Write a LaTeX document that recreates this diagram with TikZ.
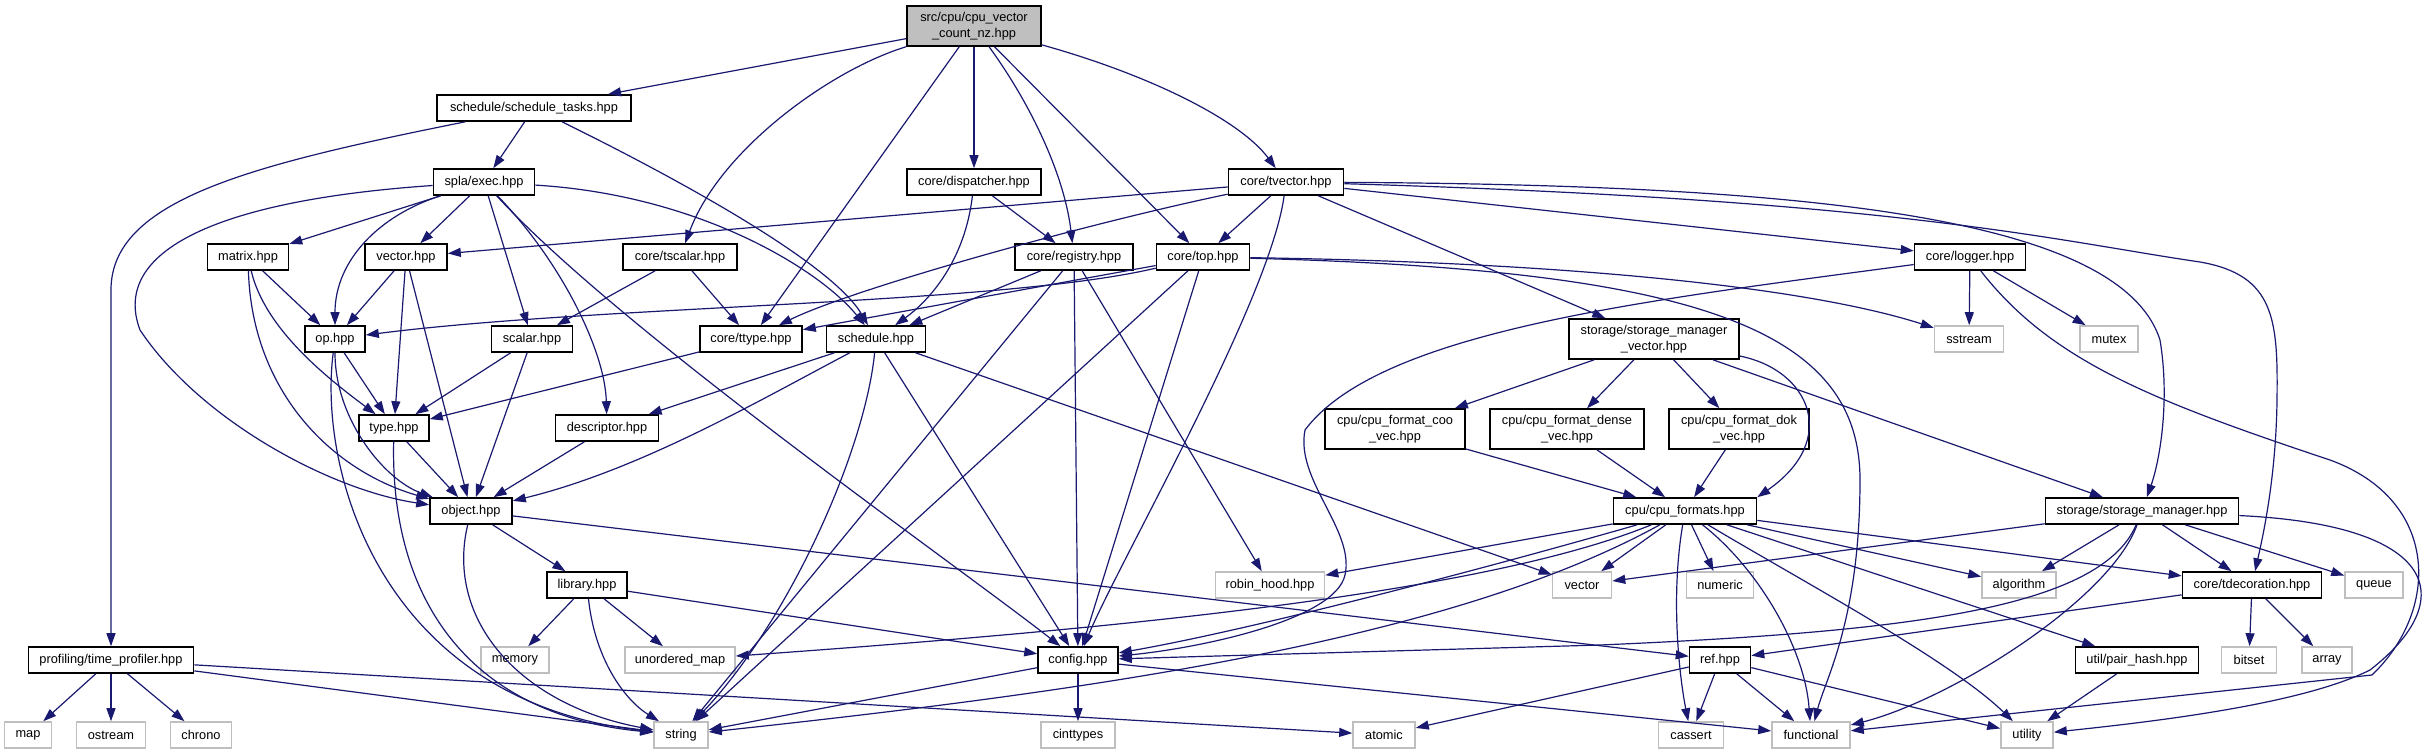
\documentclass[tikz,border=0pt]{standalone}
\usepackage{fontspec}
\setmainfont{Liberation Sans}
\usetikzlibrary{arrows.meta}
\definecolor{edgecol}{HTML}{191970}
\definecolor{sysgray}{HTML}{BFBFBF}
\begin{document}
\begin{tikzpicture}[x=1pt,y=-1pt,
  base/.style={rectangle, inner sep=0pt, minimum height=26pt, line width=1.6pt, fill=white,
    font=\fontsize{12.8}{15.5}\selectfont, align=center},
  doc/.style={base, draw=black},
  sys/.style={base, draw=sysgray},
  two/.style={minimum height=40pt},
  e/.style={draw=edgecol, line width=1.2pt, -{Triangle[length=13pt,width=9pt]}}
]
\fill[white] (0,0) rectangle (2429,753);
\useasboundingbox (0,0) rectangle (2429,753);

% nodes
\node[doc, two, fill=sysgray, minimum width=134pt] (src) at (974,26) {src/cpu/cpu\_vector\\\_count\_nz.hpp};
\node[doc, minimum width=194pt] (st) at (534,108) {schedule/schedule\_tasks.hpp};
\node[doc, minimum width=101pt] (exec) at (484,182) {spla/exec.hpp};
\node[doc, minimum width=134pt] (disp) at (974,182) {core/dispatcher.hpp};
\node[doc, minimum width=115pt] (tvec) at (1286,182) {core/tvector.hpp};
\node[doc, minimum width=81pt] (matrix) at (248,257) {matrix.hpp};
\node[doc, minimum width=82pt] (vech) at (406,257) {vector.hpp};
\node[doc, minimum width=114pt] (tscalar) at (680,257) {core/tscalar.hpp};
\node[doc, minimum width=118pt] (registry) at (1074,257) {core/registry.hpp};
\node[doc, minimum width=93pt] (top) at (1203,257) {core/top.hpp};
\node[doc, minimum width=111pt] (logger) at (1970,257) {core/logger.hpp};
\node[doc, minimum width=60pt] (op) at (335,339) {op.hpp};
\node[doc, minimum width=81pt] (scalar) at (532,339) {scalar.hpp};
\node[doc, minimum width=102pt] (ttype) at (751,339) {core/ttype.hpp};
\node[doc, minimum width=99pt] (sched) at (876,339) {schedule.hpp};
\node[doc, two, minimum width=170pt] (smv) at (1654,339) {storage/storage\_manager\\\_vector.hpp};
\node[sys, minimum width=69pt] (sstream) at (1969,339) {sstream};
\node[sys, minimum width=58pt] (mutex) at (2109,339) {mutex};
\node[doc, minimum width=70pt] (type) at (394,428) {type.hpp};
\node[doc, minimum width=103pt] (descr) at (607,428) {descriptor.hpp};
\node[doc, two, minimum width=140pt] (coo) at (1395,429) {cpu/cpu\_format\_coo\\\_vec.hpp};
\node[doc, two, minimum width=154pt] (dense) at (1567,429) {cpu/cpu\_format\_dense\\\_vec.hpp};
\node[doc, two, minimum width=140pt] (dok) at (1739,429) {cpu/cpu\_format\_dok\\\_vec.hpp};
\node[doc, minimum width=82pt] (object) at (471,511) {object.hpp};
\node[doc, minimum width=143pt] (formats) at (1685,511) {cpu/cpu\_formats.hpp};
\node[doc, minimum width=193pt] (sm) at (2142,511) {storage/storage\_manager.hpp};
\node[doc, minimum width=80pt] (library) at (587,585) {library.hpp};
\node[sys, minimum width=109pt] (robin) at (1270,585) {robin\_hood.hpp};
\node[sys, minimum width=59pt] (vecs) at (1582,585) {vector};
\node[sys, minimum width=67pt] (numeric) at (1720,585) {numeric};
\node[sys, minimum width=74pt] (algorithm) at (2019,585) {algorithm};
\node[doc, minimum width=139pt] (tdec) at (2252,585) {core/tdecoration.hpp};
\node[sys, minimum width=58pt] (queue) at (2374,585) {queue};
\node[doc, minimum width=165pt] (tprof) at (111,660) {profiling/time\_profiler.hpp};
\node[sys, minimum width=68pt] (memory) at (515,660) {memory};
\node[sys, minimum width=110pt] (umap) at (680,660) {unordered\_map};
\node[doc, minimum width=80pt] (config) at (1078,660) {config.hpp};
\node[doc, minimum width=61pt] (ref) at (1720,660) {ref.hpp};
\node[doc, minimum width=123pt] (pairhash) at (2137,660) {util/pair\_hash.hpp};
\node[sys, minimum width=55pt] (bitset) at (2249,660) {bitset};
\node[sys, minimum width=50pt] (array) at (2327,660) {array};
\node[sys, minimum width=47pt] (map) at (28,735) {map};
\node[sys, minimum width=69pt] (ostream) at (111,735) {ostream};
\node[sys, minimum width=61pt] (chrono) at (201,735) {chrono};
\node[sys, minimum width=54pt] (string) at (681,735) {string};
\node[sys, minimum width=74pt] (cinttypes) at (1078,735) {cinttypes};
\node[sys, minimum width=62pt] (atomic) at (1384,735) {atomic};
\node[sys, minimum width=65pt] (cassert) at (1691,735) {cassert};
\node[sys, minimum width=78pt] (functional) at (1811,735) {functional};
\node[sys, minimum width=52pt] (utility) at (2027,735) {utility};

% src
\draw[e] (src) -- (st);
\draw[e] (src) .. controls (830,70) and (720,150) .. (tscalar);
\draw[e] (src) -- (ttype);
\draw[e] (src) -- (disp);
\draw[e] (src) .. controls (1035,110) and (1065,180) .. (registry);
\draw[e] (src) -- (top);
\draw[e] (src) .. controls (1150,75) and (1240,120) .. (tvec);
% schedule_tasks
\draw[e] (st) -- (exec);
\draw[e] (st) .. controls (250,165) and (111,200) .. (111,290) -- (tprof);
\draw[e] (st) .. controls (660,170) and (830,260) .. (sched);
% exec
\draw[e] (exec) -- (matrix);
\draw[e] (exec) -- (vech);
\draw[e] (exec) .. controls (380,215) and (335,260) .. (op);
\draw[e] (exec) -- (scalar);
\draw[e] (exec) .. controls (560,260) and (605,350) .. (descr);
\draw[e] (exec) .. controls (220,200) and (110,250) .. (140,330) .. controls (200,420) and (330,490) .. (object);
\draw[e] (exec) .. controls (620,330) and (950,560) .. (config);
\draw[e] (exec) .. controls (700,195) and (820,270) .. (sched);
% matrix, vector
\draw[e] (matrix) -- (op);
\draw[e] (matrix) .. controls (265,330) and (330,380) .. (type);
\draw[e] (matrix) .. controls (252,390) and (330,470) .. (object);
\draw[e] (vech) -- (op);
\draw[e] (vech) -- (type);
\draw[e] (vech) -- (object);
% tscalar
\draw[e] (tscalar) -- (scalar);
\draw[e] (tscalar) -- (ttype);
% op, scalar, ttype, type, descriptor
\draw[e] (op) -- (type);
\draw[e] (op) .. controls (335,420) and (385,480) .. (object);
\draw[e] (op) .. controls (318,470) and (380,700) .. (string);
\draw[e] (scalar) -- (type);
\draw[e] (scalar) -- (object);
\draw[e] (ttype) -- (type);
\draw[e] (type) -- (object);
\draw[e] (type) .. controls (390,600) and (470,715) .. (string);
\draw[e] (descr) -- (object);
% object, library
\draw[e] (object) -- (library);
\draw[e] (object) .. controls (445,620) and (520,705) .. (string);
\draw[e] (object) -- (ref);
\draw[e] (library) -- (memory);
\draw[e] (library) -- (umap);
\draw[e] (library) .. controls (595,660) and (625,700) .. (string);
\draw[e] (library) -- (config);
% time profiler
\draw[e] (tprof) -- (map);
\draw[e] (tprof) -- (ostream);
\draw[e] (tprof) -- (chrono);
\draw[e] (tprof) -- (string);
\draw[e] (tprof) -- (atomic);
% schedule
\draw[e] (sched) -- (descr);
\draw[e] (sched) .. controls (760,400) and (640,470) .. (object);
\draw[e] (sched) .. controls (865,450) and (790,620) .. (string);
\draw[e] (sched) -- (config);
\draw[e] (sched) -- (vecs);
% dispatcher, registry
\draw[e] (disp) -- (registry);
\draw[e] (disp) .. controls (965,260) and (930,300) .. (sched);
\draw[e] (registry) -- (sched);
\draw[e] (registry) -- (string);
\draw[e] (registry) -- (config);
\draw[e] (registry) -- (robin);
% top
\draw[e] (top) .. controls (1000,305) and (600,305) .. (op);
\draw[e] (top) -- (ttype);
\draw[e] (top) -- (string);
\draw[e] (top) -- (config);
\draw[e] (top) .. controls (1550,262) and (1800,285) .. (sstream);
\draw[e] (top) .. controls (1700,270) and (1860,330) .. (1860,480) .. controls (1860,620) and (1825,680) .. (functional);
% tvector
\draw[e] (tvec) -- (vech);
\draw[e] (tvec) .. controls (1080,225) and (850,290) .. (ttype);
\draw[e] (tvec) -- (top);
\draw[e] (tvec) .. controls (1270,300) and (1120,560) .. (config);
\draw[e] (tvec) -- (logger);
\draw[e] (tvec) -- (smv);
\draw[e] (tvec) .. controls (1800,185) and (2120,215) .. (2160,340) .. controls (2170,400) and (2160,460) .. (sm);
\draw[e] (tvec) .. controls (1900,200) and (2050,240) .. (2200,262) .. controls (2275,275) and (2278,320) .. (2277,400) .. controls (2276,480) and (2262,540) .. (tdec);
% logger
\draw[e] (logger) -- (sstream);
\draw[e] (logger) -- (mutex);
\draw[e] (logger) .. controls (1650,300) and (1380,330) .. (1305,430) .. controls (1295,480) and (1355,530) .. (1345,575) .. controls (1335,620) and (1200,648) .. (config);
\draw[e] (logger) .. controls (2050,360) and (2150,400) .. (2330,460) .. controls (2440,500) and (2440,610) .. (2372,675) -- (functional);
% storage manager vector
\draw[e] (smv) -- (coo);
\draw[e] (smv) -- (dense);
\draw[e] (smv) -- (dok);
\draw[e] (smv) .. controls (1810,370) and (1840,440) .. (formats.north east);
\draw[e] (smv) -- (sm);
\draw[e] (coo) -- (formats);
\draw[e] (dense) -- (formats);
\draw[e] (dok) -- (formats);
% cpu formats
\draw[e] (formats) -- (robin);
\draw[e] (formats) -- (vecs);
\draw[e] (formats) -- (numeric);
\draw[e] (formats) -- (algorithm);
\draw[e] (formats) -- (tdec);
\draw[e] (formats) .. controls (1480,570) and (1250,630) .. (config);
\draw[e] (formats) .. controls (1480,595) and (1100,630) .. (umap);
\draw[e] (formats) .. controls (1450,640) and (1100,690) .. (string);
\draw[e] (formats) .. controls (1670,600) and (1680,680) .. (cassert);
\draw[e] (formats) .. controls (1760,570) and (1805,650) .. (functional);
\draw[e] (formats) .. controls (1800,580) and (1950,660) .. (utility);
\draw[e] (formats) -- (pairhash);
% storage manager
\draw[e] (sm) -- (vecs);
\draw[e] (sm) -- (algorithm);
\draw[e] (sm) -- (tdec);
\draw[e] (sm) -- (queue);
\draw[e] (sm) .. controls (2100,610) and (1900,632) .. (1600,645) -- (config);
\draw[e] (sm) .. controls (2110,600) and (1950,700) .. (functional);
\draw[e] (sm) .. controls (2440,525) and (2460,600) .. (2370,670) .. controls (2300,705) and (2150,722) .. (utility);
% tdecoration
\draw[e] (tdec) -- (ref);
\draw[e] (tdec) -- (bitset);
\draw[e] (tdec) -- (array);
% ref
\draw[e] (ref) -- (atomic);
\draw[e] (ref) -- (cassert);
\draw[e] (ref) -- (functional);
\draw[e] (ref) -- (utility);
\draw[e] (pairhash) -- (utility);
% config
\draw[e] (config) -- (cinttypes);
\draw[e] (config) -- (string);
\draw[e] (config) -- (functional);
\end{tikzpicture}
\end{document}
